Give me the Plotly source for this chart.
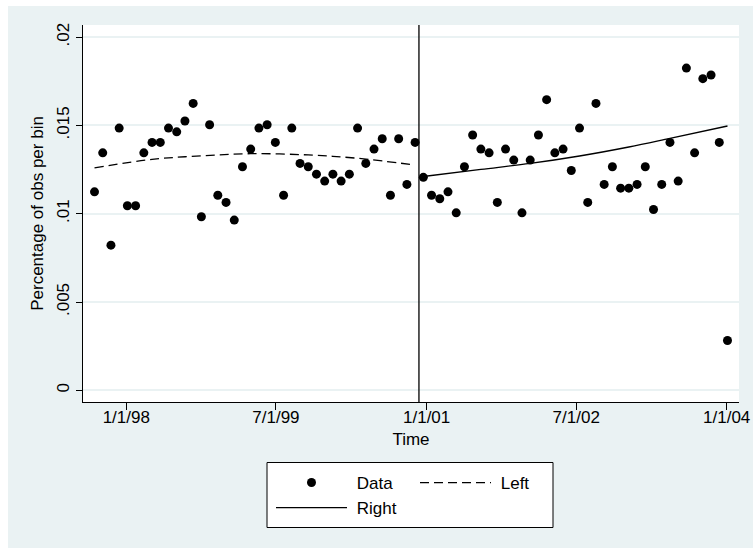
import pandas as pd
import plotly.graph_objects as go

# ---- data: share of observations in 30-day bins around the cutoff ----
bin_dates = pd.date_range("1997-09-07", periods=78, freq="30D")
n_left = 40

left_share = [0.01124, 0.01345, 0.00822, 0.01485, 0.01045, 0.01045, 0.01345, 0.01404,
              0.01404, 0.01485, 0.01464, 0.01525, 0.01625, 0.00983, 0.01504, 0.01105,
              0.01064, 0.00964, 0.01266, 0.01366, 0.01485, 0.01504, 0.01404, 0.01105,
              0.01485, 0.01285, 0.01266, 0.01224, 0.01185, 0.01224, 0.01185, 0.01224,
              0.01485, 0.01285, 0.01366, 0.01425, 0.01105, 0.01425, 0.01166, 0.01404]
right_share = [0.01206, 0.01105, 0.01085, 0.01124, 0.01005, 0.01266, 0.01446, 0.01366,
               0.01345, 0.01064, 0.01366, 0.01304, 0.01005, 0.01304, 0.01446, 0.01646,
               0.01345, 0.01366, 0.01245, 0.01485, 0.01064, 0.01625, 0.01166, 0.01266,
               0.01145, 0.01145, 0.01166, 0.01266, 0.01024, 0.01166, 0.01404, 0.01185,
               0.01825, 0.01345, 0.01765, 0.01786, 0.01404, 0.00282]

# fitted density on each side (bin index within side, fitted share)
left_fit_bins = [0, 7, 13, 19, 26, 32, 39]
left_fit = [0.01260, 0.01308, 0.01328, 0.01340, 0.01333, 0.01314, 0.01276]
right_fit_bins = [0, 7, 13, 19, 25, 30, 37]
right_fit = [0.01211, 0.01251, 0.01285, 0.01327, 0.01378, 0.01427, 0.01497]

cutoff_date = "2000-12-04"

x_tick_dates = ["1998-01-01", "1999-07-01", "2001-01-01", "2002-07-01", "2004-01-01"]
x_tick_text = ["1/1/98", "7/1/99", "1/1/01", "7/1/02", "1/1/04"]
y_tick_vals = [0, 0.005, 0.01, 0.015, 0.02]
y_tick_text = ["0", ".005", ".01", ".015", ".02"]

# ---- styling ----
FONT = "Liberation Sans, Arial, Helvetica, sans-serif"
BG = "#EAF2F3"
W, H = 753, 548
ML, MR, MT, MB = 83, 14, 25, 146
PW, PH = W - ML - MR, H - MT - MB
FS = 17
NBSP = "\u00a0"


def px_x(p):
    return (p - ML) / PW


def px_y(p):
    return 1 - (p - MT) / PH


left_dates = bin_dates[:n_left]
right_dates = bin_dates[n_left:]

fig = go.Figure()
fig.add_trace(go.Scatter(
    x=list(left_dates) + list(right_dates), y=left_share + right_share,
    mode="markers", name=NBSP + "Data",
    marker=dict(color="black", size=9, line=dict(width=0)),
    legend="legend",
))
fig.add_trace(go.Scatter(
    x=[left_dates[i] for i in left_fit_bins], y=left_fit,
    mode="lines", name=NBSP + "Left",
    line=dict(color="black", width=1.3, dash="9px,5px", shape="spline"),
    legend="legend",
))
fig.add_trace(go.Scatter(
    x=[right_dates[i] for i in right_fit_bins], y=right_fit,
    mode="lines", name=NBSP + "Right",
    line=dict(color="black", width=1.3, shape="spline"),
    legend="legend2",
))

shapes = [
    # cutoff marker
    dict(type="line", xref="x", yref="paper", x0=cutoff_date, x1=cutoff_date, y0=0, y1=1,
         line=dict(color="black", width=1.3), layer="above"),
    # outer white edges
    dict(type="rect", xref="paper", yref="paper", x0=px_x(0), x1=px_x(8), y0=px_y(H), y1=px_y(0),
         fillcolor="white", line=dict(width=0), layer="below"),
    dict(type="rect", xref="paper", yref="paper", x0=px_x(0), x1=px_x(W), y0=px_y(6), y1=px_y(0),
         fillcolor="white", line=dict(width=0), layer="below"),
    # legend frame
    dict(type="rect", xref="paper", yref="paper", x0=px_x(267), x1=px_x(553),
         y0=px_y(527.5), y1=px_y(462.5), fillcolor="white",
         line=dict(color="black", width=1), layer="below"),
]

legend_common = dict(
    orientation="h", xanchor="left", yanchor="middle",
    bgcolor="rgba(0,0,0,0)", borderwidth=0,
    itemwidth=71, entrywidth=58, entrywidthmode="pixels",
    font=dict(family=FONT, size=FS, color="black"),
    traceorder="normal", itemclick=False, itemdoubleclick=False,
)

fig.update_layout(
    width=W, height=H,
    margin=dict(l=ML, r=MR, t=MT, b=MB, pad=0, autoexpand=False),
    paper_bgcolor=BG, plot_bgcolor="white",
    font=dict(family=FONT, size=FS, color="black"),
    shapes=shapes,
    legend=dict(legend_common, x=px_x(271), y=px_y(483)),
    legend2=dict(legend_common, x=px_x(271), y=px_y(508)),
    xaxis=dict(
        type="date", range=["1997-07-27", "2004-02-15"],
        tickmode="array", tickvals=x_tick_dates, ticktext=x_tick_text,
        ticks="outside", ticklen=7, tickwidth=1, tickcolor="black",
        ticklabelstandoff=-7,
        showline=True, linecolor="black", linewidth=1,
        showgrid=False, zeroline=False, automargin=False,
        tickfont=dict(size=FS),
        title=dict(text="Time", font=dict(size=FS), standoff=6),
    ),
    yaxis=dict(
        range=[-0.000663, 0.02069],
        tickmode="array", tickvals=y_tick_vals, ticktext=y_tick_text,
        tickangle=-90,
        ticks="outside", ticklen=6, tickwidth=1, tickcolor="black",
        showline=True, linecolor="black", linewidth=1,
        showgrid=True, gridcolor=BG, gridwidth=1.5, zeroline=False, automargin=False,
        tickfont=dict(size=FS),
        title=dict(text="Percentage of obs per bin", font=dict(size=FS), standoff=6),
    ),
)

fig.write_html("out.html")
